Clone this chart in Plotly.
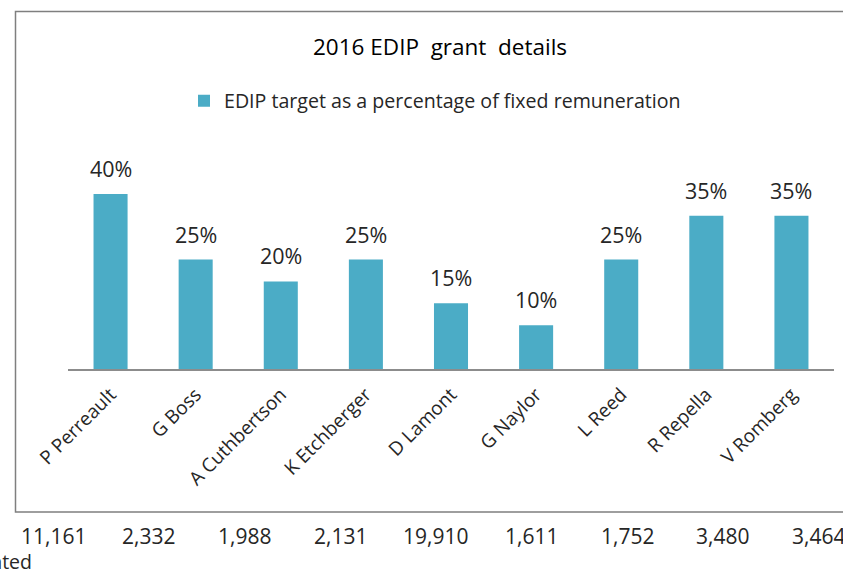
import plotly.graph_objects as go

categories = ["P Perreault", "G Boss", "A Cuthbertson", "K Etchberger", "D Lamont",
              "G Naylor", "L Reed", "R Repella", "V Romberg"]
edip_pct = [40, 25, 20, 25, 15, 10, 25, 35, 35]
granted = ["11,161", "2,332", "1,988", "2,131", "19,910", "1,611", "1,752", "3,480", "3,464"]
row_label = "Number of notional funds granted"
series_name = "EDIP target as a percentage of fixed remuneration"
title_text = "2016 EDIP\u00a0\u00a0grant\u00a0\u00a0details"

W, H = 843, 572
ML, MR, MT, MB = 68, 9, 172, 203
PW, PH = W - ML - MR, H - MT - MB
FONT = "Open Sans, Noto Sans, sans-serif"
TXT = "#262626"
BAR = "#4BACC6"


def px_x(px):
    return (px - ML) / PW


def px_y(py):
    return (H - MB - py) / PH


fig = go.Figure()
fig.add_trace(go.Bar(
    x=categories, y=edip_pct, name=series_name,
    marker=dict(color=BAR, line=dict(width=0)),
    showlegend=True,
))

# data labels
for c, v in zip(categories, edip_pct):
    fig.add_annotation(x=c, y=v, xref="x", yref="y", text=f"{v}%",
                       showarrow=False, yanchor="bottom", yshift=9,
                       font=dict(family=FONT, size=21.5, color=TXT))

# row of granted numbers below the chart
for i, g in enumerate(granted):
    fig.add_annotation(x=px_x(53 + i * 95.7), y=px_y(536), xref="paper", yref="paper",
                       text=g, showarrow=False, xanchor="center", yanchor="middle",
                       font=dict(family=FONT, size=21, color=TXT))
fig.add_annotation(x=px_x(34), y=px_y(561), xref="paper", yref="paper",
                   text=row_label, showarrow=False, xanchor="right", yanchor="middle",
                   font=dict(family=FONT, size=19.5, color=TXT))

# title
fig.add_annotation(x=px_x(440), y=px_y(46), xref="paper", yref="paper",
                   text=title_text, showarrow=False, xanchor="center", yanchor="middle",
                   font=dict(family=FONT, size=22.5, color="#000000"))

# outer border
fig.add_shape(type="rect", xref="paper", yref="paper",
              x0=px_x(15.5), x1=px_x(870), y0=px_y(512), y1=px_y(11.5),
              line=dict(color="#7F7F7F", width=1.5), fillcolor="rgba(0,0,0,0)", layer="below")

fig.update_layout(
    width=W, height=H,
    margin=dict(l=ML, r=MR, t=MT, b=MB),
    paper_bgcolor="white", plot_bgcolor="white",
    bargap=0.6,
    font=dict(family=FONT, color=TXT),
    legend=dict(orientation="h", x=px_x(184), xanchor="left", y=px_y(101), yanchor="middle",
                font=dict(family=FONT, size=19.6, color=TXT),
                bgcolor="rgba(0,0,0,0)"),
    xaxis=dict(showline=True, linecolor="#8C8C8C", linewidth=2, ticks="",
               tickangle=-45, ticklabelstandoff=5,
               tickfont=dict(family=FONT, size=19, color=TXT), showgrid=False),
    yaxis=dict(range=[0, 45], visible=False, showgrid=False, zeroline=False),
)

fig.write_html("out.html",
               config={"displayModeBar": False},
               post_script="document.body.style.margin='0';document.body.style.overflow='hidden';")
